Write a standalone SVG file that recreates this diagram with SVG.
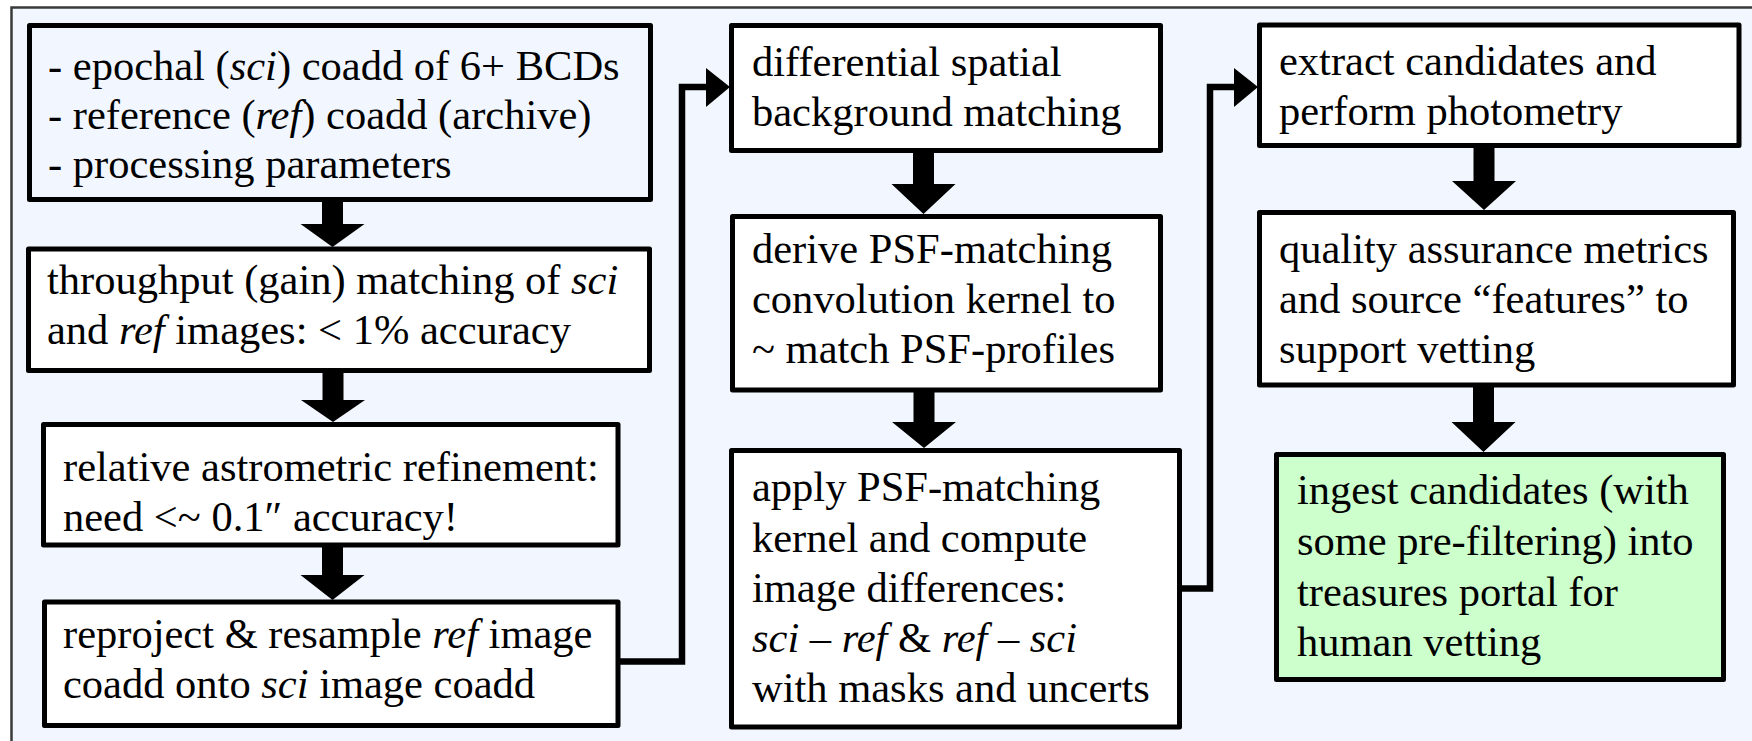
<svg xmlns="http://www.w3.org/2000/svg" width="1752" height="741" viewBox="0 0 1752 741">
<style>
.box{fill:#ffffff;stroke:#000;stroke-width:5;stroke-linejoin:round}
.b1{fill:#f2f7ff}
.green{fill:#ccffcc}
.i{font-style:italic}
.arr{fill:#000;stroke:none}
.ln{fill:none;stroke:#000;stroke-width:6.5;stroke-linejoin:miter;stroke-linecap:butt}
</style>
<rect x="0" y="0" width="1752" height="741" fill="#ffffff"/>
<rect x="11.5" y="7.5" width="1760" height="760" fill="#f2f7ff" stroke="#3a3a3a" stroke-width="2.5"/>

<g id="connectors">
  <polygon class="arr" points="322,201 343,201 343,224 364.5,224 332.5,247 300.5,224 322,224"/>
  <polygon class="arr" points="322.5,372 343.5,372 343.5,400 365,400 333,422 301,400 322.5,400"/>
  <polygon class="arr" points="322,547 343,547 343,575 364.5,575 332.5,600 300.5,575 322,575"/>
  <polygon class="arr" points="913,152 934,152 934,184 955.5,184 923.5,214 891.5,184 913,184"/>
  <polygon class="arr" points="913.5,391 934.5,391 934.5,422 956,422 924,448 892,422 913.5,422"/>
  <polygon class="arr" points="1473.5,147 1494.5,147 1494.5,181 1516,181 1484,210 1452,181 1473.5,181"/>
  <polygon class="arr" points="1473,386 1494,386 1494,422 1515.5,422 1483.5,452 1451.5,422 1473,422"/>
  <polyline class="ln" points="618,661.5 682,661.5 682,87 708,87"/>
  <polygon class="arr" points="706,68 706,107 730,87"/>
  <polyline class="ln" points="1180,588.5 1210,588.5 1210,87 1236,87"/>
  <polygon class="arr" points="1234,68 1234,107 1258,87"/>
</g>

<g id="n1">
  <rect class="box b1" x="29.5" y="25.5" width="621" height="174"/>
  <text font-family="Liberation Serif" font-size="42.5" x="48" y="80">- epochal (<tspan class="i">sci</tspan>) coadd of 6+ BCDs</text>
  <text font-family="Liberation Serif" font-size="42.5" x="48" y="129">- reference (<tspan class="i">ref</tspan>) coadd (archive)</text>
  <text font-family="Liberation Serif" font-size="42.5" x="48" y="178">- processing parameters</text>
</g>
<g id="n2">
  <rect class="box" x="28.5" y="249" width="621" height="121.5"/>
  <text font-family="Liberation Serif" font-size="42.5" x="47" y="294">throughput (gain) matching of <tspan class="i">sci</tspan></text>
  <text font-family="Liberation Serif" font-size="42.5" x="47" y="344">and <tspan class="i">ref</tspan> images: &lt; 1% accuracy</text>
</g>
<g id="n3">
  <rect class="box" x="43.5" y="424.5" width="574.5" height="120.5"/>
  <text font-family="Liberation Serif" font-size="42.5" x="63" y="481">relative astrometric refinement:</text>
  <text font-family="Liberation Serif" font-size="42.5" x="63" y="531">need &lt;~ 0.1″ accuracy!</text>
</g>
<g id="n4">
  <rect class="box" x="44.5" y="602" width="573.5" height="123.5"/>
  <text font-family="Liberation Serif" font-size="42.5" x="63" y="648">reproject &amp; resample <tspan class="i">ref</tspan> image</text>
  <text font-family="Liberation Serif" font-size="42.5" x="63" y="698">coadd onto <tspan class="i">sci</tspan> image coadd</text>
</g>
<g id="n5">
  <rect class="box" x="731.5" y="25.5" width="429" height="125"/>
  <text font-family="Liberation Serif" font-size="42.5" x="752" y="76">differential spatial</text>
  <text font-family="Liberation Serif" font-size="42.5" x="752" y="126">background matching</text>
</g>
<g id="n6">
  <rect class="box" x="732.5" y="216.5" width="428" height="173.5"/>
  <text font-family="Liberation Serif" font-size="42.5" x="752" y="263">derive PSF-matching</text>
  <text font-family="Liberation Serif" font-size="42.5" x="752" y="313">convolution kernel to</text>
  <text font-family="Liberation Serif" font-size="42.5" x="752" y="363">~ match PSF-profiles</text>
</g>
<g id="n7">
  <rect class="box" x="731.5" y="450.5" width="448" height="276.5"/>
  <text font-family="Liberation Serif" font-size="42.5" x="752" y="501">apply PSF-matching</text>
  <text font-family="Liberation Serif" font-size="42.5" x="752" y="552">kernel and compute</text>
  <text font-family="Liberation Serif" font-size="42.5" x="752" y="602">image differences:</text>
  <text font-family="Liberation Serif" font-size="42.5" x="752" y="652"><tspan class="i">sci</tspan> – <tspan class="i">ref</tspan> &amp; <tspan class="i">ref</tspan> – <tspan class="i">sci</tspan></text>
  <text font-family="Liberation Serif" font-size="42.5" x="752" y="702">with masks and uncerts</text>
</g>
<g id="n8">
  <rect class="box" x="1259.5" y="25" width="479.5" height="120.5"/>
  <text font-family="Liberation Serif" font-size="42.5" x="1279" y="75">extract candidates and</text>
  <text font-family="Liberation Serif" font-size="42.5" x="1279" y="125">perform photometry</text>
</g>
<g id="n9">
  <rect class="box" x="1259.5" y="212.5" width="474" height="172.5"/>
  <text font-family="Liberation Serif" font-size="42.5" x="1279" y="263">quality assurance metrics</text>
  <text font-family="Liberation Serif" font-size="42.5" x="1279" y="313">and source “features” to</text>
  <text font-family="Liberation Serif" font-size="42.5" x="1279" y="363">support vetting</text>
</g>
<g id="n10">
  <rect class="box green" x="1276.5" y="454.5" width="447" height="225"/>
  <text font-family="Liberation Serif" font-size="42.5" x="1297" y="504">ingest candidates (with</text>
  <text font-family="Liberation Serif" font-size="42.5" x="1297" y="555">some pre-filtering) into</text>
  <text font-family="Liberation Serif" font-size="42.5" x="1297" y="606">treasures portal for</text>
  <text font-family="Liberation Serif" font-size="42.5" x="1297" y="656">human vetting</text>
</g>
</svg>
